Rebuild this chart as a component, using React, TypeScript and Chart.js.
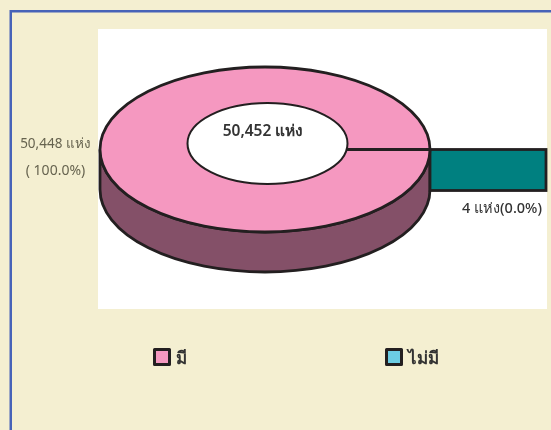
import React, { useEffect, useRef } from "react";
import { Chart, registerables } from "chart.js";

Chart.register(...registerables);

const categories = ["มี", "ไม่มี"];
const siteCounts = [50448, 4];
const sliceColors = ["#F598C0", "#008080"];
const legendColors = ["#F598C0", "#6CCDE3"];
const unit = "แห่ง";

const INK = "#231F20";
const WALL = "#845068";
const PAGE = "#F4EFD1";
const FONT = '"Noto Sans", "DejaVu Sans", sans-serif';
const CY = 149.5;
const DEPTH = 40;

const fmt = (n: number) => n.toLocaleString("en-US");

const ringPlugin = {
  id: "ring3d",
  beforeDraw(chart: any) {
    const { ctx } = chart;
    ctx.save();
    ctx.fillStyle = PAGE;
    ctx.fillRect(0, 0, chart.width, chart.height);
    ctx.fillStyle = "#FFFFFF";
    ctx.fillRect(98, 29, 449, 280);
    ctx.strokeStyle = "#4763B8";
    ctx.lineWidth = 2.5;
    ctx.strokeRect(10.75, 11.25, 600, 600);
    ctx.restore();
  },
  beforeDatasetsDraw(chart: any) {
    const { ctx } = chart;
    const arc = chart.getDatasetMeta(0).data[0];
    const r = arc.outerRadius;
    const ry = r * 0.5;
    ctx.save();
    ctx.beginPath();
    ctx.ellipse(arc.x, CY, r, ry, 0, 0, Math.PI);
    ctx.lineTo(arc.x - r, CY + DEPTH);
    ctx.ellipse(arc.x, CY + DEPTH, r, ry, 0, Math.PI, 0, true);
    ctx.closePath();
    ctx.fillStyle = WALL;
    ctx.fill();
    ctx.strokeStyle = INK;
    ctx.lineWidth = 2.8;
    ctx.stroke();
    // second slice's extended face
    ctx.fillStyle = sliceColors[1];
    ctx.fillRect(arc.x + r, CY, 116, DEPTH + 1);
    ctx.strokeRect(arc.x + r, CY, 116, DEPTH + 1);
    ctx.restore();
    // squash the library's own doughnut into the ring's top face
    ctx.save();
    ctx.translate(0, CY);
    ctx.scale(1, 0.5);
    ctx.translate(0, -arc.y);
  },
  afterDatasetsDraw(chart: any) {
    const { ctx } = chart;
    const a = chart.getDatasetMeta(0).data[0];
    ctx.beginPath();
    ctx.arc(a.x, a.y, a.outerRadius, 0, Math.PI * 2);
    ctx.save();
    ctx.setTransform(1, 0, 0, 1, 0, 0);
    ctx.strokeStyle = INK;
    ctx.lineWidth = 2.8;
    ctx.stroke();
    ctx.restore();
    ctx.restore();

    // off-centre hole of the top face, and the seam between the two slices
    const hx = 267.5;
    const hy = 143.5;
    const hrx = 80;
    const hry = 40.5;
    ctx.save();
    ctx.beginPath();
    ctx.ellipse(hx, hy, hrx, hry, 0, 0, Math.PI * 2);
    ctx.fillStyle = "#FFFFFF";
    ctx.fill();
    ctx.strokeStyle = INK;
    ctx.lineWidth = 2;
    ctx.stroke();
    const seamStart = hx + hrx * Math.sqrt(1 - ((CY - hy) / hry) ** 2);
    ctx.beginPath();
    ctx.moveTo(seamStart, CY);
    ctx.lineTo(a.x + a.outerRadius, CY);
    ctx.lineWidth = 3;
    ctx.stroke();
    ctx.restore();
  },
  afterDraw(chart: any) {
    const { ctx } = chart;
    const data = chart.data.datasets[0].data as number[];
    const total = data.reduce((s, v) => s + v, 0);
    const pct = (v: number) => ((v / total) * 100).toFixed(1) + "%";
    ctx.save();
    ctx.textBaseline = "middle";
    ctx.textAlign = "center";
    ctx.fillStyle = "#66634F";
    ctx.font = `13.5px ${FONT}`;
    ctx.fillText(`${fmt(data[0])} ${unit}`, 55.5, 144);
    ctx.font = `14px ${FONT}`;
    ctx.fillText(`( ${pct(data[0])})`, 55.5, 171);
    ctx.fillStyle = "#333333";
    ctx.font = `600 15.5px ${FONT}`;
    ctx.fillText(`${fmt(total)} ${unit}`, 263, 132);
    ctx.font = `500 14.5px ${FONT}`;
    ctx.fillText(`${fmt(data[1])} ${unit}(${pct(data[1])})`, 502, 209);
    // legend
    const xs = [154.5, 386.5];
    chart.data.labels.forEach((label: string, i: number) => {
      ctx.fillStyle = legendColors[i];
      ctx.strokeStyle = INK;
      ctx.lineWidth = 3;
      ctx.lineJoin = "round";
      ctx.fillRect(xs[i], 349.5, 15, 15);
      ctx.strokeRect(xs[i], 349.5, 15, 15);
      ctx.fillStyle = "#333333";
      ctx.textAlign = "left";
      ctx.font = `bold 17px ${FONT}`;
      ctx.fillText(label, xs[i] + 21, 359);
    });
    ctx.restore();
  },
};

export default function App() {
  const ref = useRef<HTMLCanvasElement>(null);
  useEffect(() => {
    document.body.style.margin = "0";
    const chart = new Chart(ref.current!, {
      type: "doughnut",
      data: {
        labels: categories,
        datasets: [
          {
            data: siteCounts,
            backgroundColor: sliceColors,
            borderWidth: 0,
          },
        ],
      },
      options: {
        animation: false,
        responsive: false,
        rotation: 90,
        cutout: "40%",
        layout: { padding: { left: 100, right: 121, top: 50, bottom: 50 } },
        plugins: { legend: { display: false }, tooltip: { enabled: false } },
      },
      plugins: [ringPlugin],
    } as any);
    return () => chart.destroy();
  }, []);
  return <canvas ref={ref} width={551} height={430} style={{ display: "block" }} />;
}
